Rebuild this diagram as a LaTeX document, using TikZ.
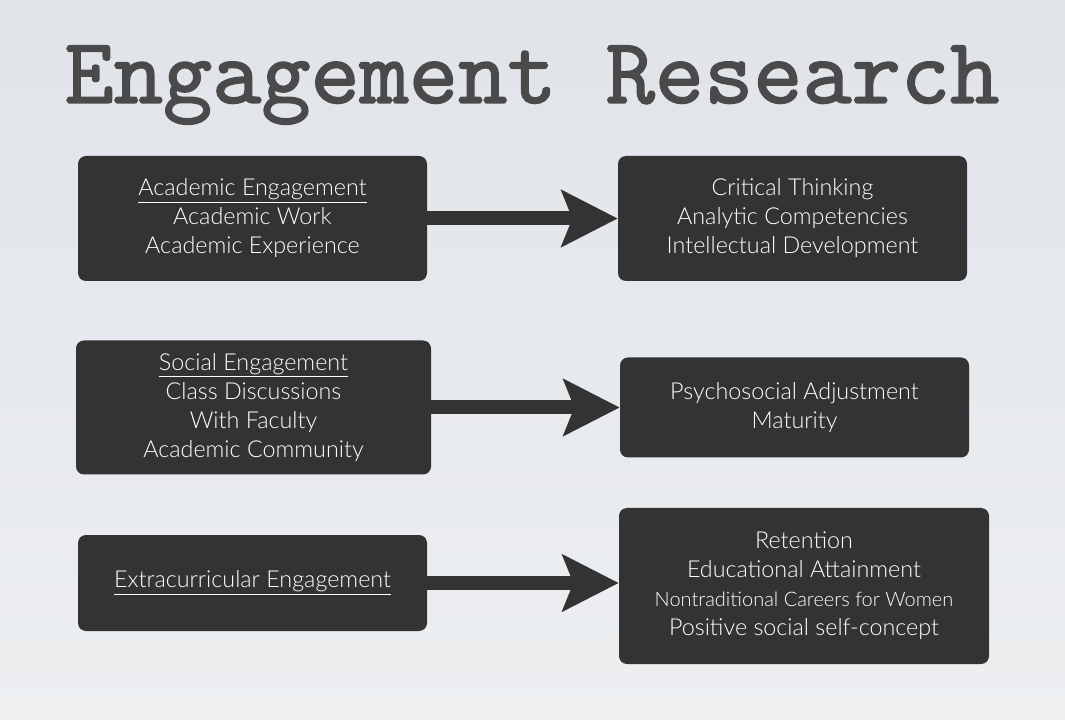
\documentclass[tikz,border=0pt]{standalone}
\usepackage{fontspec}
\usetikzlibrary{arrows.meta,calc}
\newfontfamily\gill{Lato Light}
\newfontfamily\titlefont{Latin Modern Mono}[FakeBold=1.6]
\definecolor{bgtop}{HTML}{E0E4E9}
\definecolor{bgbot}{HTML}{EDEFF1}
\definecolor{boxc}{HTML}{333333}
\definecolor{titlec}{HTML}{4A4A4A}
\begin{document}
\begin{tikzpicture}[x=0.75pt,y=-0.75pt,
  box/.style={fill=boxc,rounded corners=6pt,inner sep=0pt,text=white,align=center,
    font=\gill\fontsize{17.5}{21.8}\selectfont},
  bigarrow/.style={draw=boxc,line width=10.5pt,
    -{Stealth[length=42pt,width=42pt,inset=8pt]}}]
\useasboundingbox (0,0) rectangle (1065,720);
\shade[top color=bgtop,bottom color=bgbot] (0,0) rectangle (1065,720);
\node[anchor=base,text=titlec,inner sep=0pt] (title) at (532,103)
  {\resizebox{701pt}{!}{\titlefont Engagement Research}};
\node[box,minimum width=349*0.75pt,minimum height=125*0.75pt] (a1) at (252.5,218.5)
  {\underline{Academic Engagement}\\Academic Work\\Academic Experience};
\node[box,minimum width=349*0.75pt,minimum height=125*0.75pt] (b1) at (792.5,218.5)
  {Critical Thinking\\Analytic Competencies\\Intellectual Development};
\node[box,minimum width=355*0.75pt,minimum height=134*0.75pt] (a2) at (253.5,407.5)
  {\underline{Social Engagement}\\Class Discussions\\With Faculty\\Academic Community};
\node[box,minimum width=349*0.75pt,minimum height=100*0.75pt] (b2) at (794.5,407.5)
  {Psychosocial Adjustment\\Maturity};
\node[box,minimum width=349*0.75pt,minimum height=96*0.75pt] (a3) at (252.5,583)
  {\underline{Extracurricular Engagement}};
\node[box,minimum width=370*0.75pt,minimum height=156*0.75pt] (b3) at (804,586)
  {Retention\\Educational Attainment\\{\fontsize{15}{21.8}\selectfont Nontraditional Careers for Women}\\Positive social self-concept};
\draw[bigarrow] (a1.east) -- (b1.west);
\draw[bigarrow] (a2.east) -- (b2.west);
\draw[bigarrow] (a3.east) -- (a3.east -| b3.west);
\end{tikzpicture}
\end{document}
